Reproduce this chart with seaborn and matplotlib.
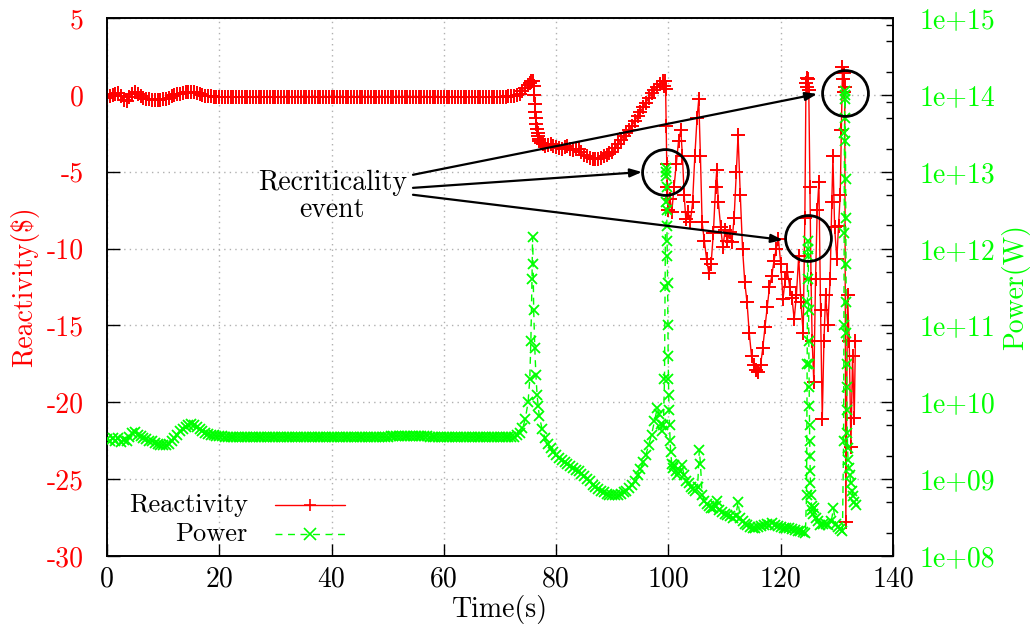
import numpy as np
import pandas as pd
import matplotlib
matplotlib.use("Agg")
import matplotlib.pyplot as plt
import seaborn as sns
from matplotlib.ticker import LogLocator, NullFormatter

# ---------------- data ----------------
time_early = [
    0.0, 0.5, 1.0, 1.5, 2.0, 2.5, 3.0, 3.5, 4.0, 4.5,
    5.0, 5.5, 6.0, 6.5, 7.0, 7.5, 8.0, 8.5, 9.0, 9.5,
    10.0, 10.5, 11.0, 11.5, 12.0, 12.5, 13.0, 13.5, 14.0, 14.5,
    15.0, 15.5, 16.0, 16.5, 17.0, 17.5, 18.0, 18.5, 19.0, 19.5,
    20.0, 20.5, 21.0, 21.5, 22.0, 22.5, 23.0, 23.5, 24.0, 24.5,
    25.0, 25.5, 26.0, 26.5, 27.0, 27.5, 28.0, 28.5, 29.0, 29.5,
    30.0, 30.5, 31.0, 31.5, 32.0, 32.5, 33.0, 33.5, 34.0, 34.5,
    35.0, 35.5, 36.0, 36.5, 37.0, 37.5, 38.0, 38.5, 39.0, 39.5,
    40.0, 40.5, 41.0, 41.5, 42.0, 42.5, 43.0, 43.5, 44.0, 44.5,
    45.0, 45.5, 46.0, 46.5, 47.0, 47.5, 48.0, 48.5, 49.0, 49.5,
    50.0, 50.5, 51.0, 51.5, 52.0, 52.5, 53.0, 53.5, 54.0, 54.5,
    55.0, 55.5, 56.0, 56.5, 57.0, 57.5, 58.0, 58.5, 59.0, 59.5,
    60.0, 60.5, 61.0, 61.5, 62.0, 62.5, 63.0, 63.5, 64.0, 64.5,
    65.0, 65.5, 66.0, 66.5, 67.0, 67.5, 68.0, 68.5, 69.0, 69.5,
    70.0, 70.5, 71.0, 71.5, 72.0,
]
rho_early = [
    -0.18, -0.10, -0.02, 0.08, 0.12, -0.10, -0.35, -0.38, -0.15, 0.05,
    0.19, 0.05, -0.10, -0.20, -0.27, -0.30, -0.32, -0.33, -0.33, -0.33,
    -0.30, -0.25, -0.18, -0.10, -0.03, 0.03, 0.08, 0.12, 0.16, 0.19,
    0.20, 0.17, 0.10, 0.03, -0.02, -0.06, -0.08, -0.10, -0.11, -0.12,
    -0.12, -0.12, -0.12, -0.12, -0.12, -0.12, -0.12, -0.12, -0.12, -0.12,
    -0.12, -0.12, -0.12, -0.12, -0.12, -0.12, -0.12, -0.12, -0.12, -0.12,
    -0.12, -0.12, -0.12, -0.12, -0.12, -0.12, -0.12, -0.12, -0.12, -0.12,
    -0.12, -0.12, -0.12, -0.12, -0.12, -0.12, -0.12, -0.12, -0.12, -0.12,
    -0.12, -0.12, -0.12, -0.12, -0.12, -0.12, -0.12, -0.12, -0.12, -0.12,
    -0.12, -0.12, -0.12, -0.12, -0.12, -0.12, -0.12, -0.12, -0.12, -0.12,
    -0.12, -0.12, -0.11, -0.11, -0.11, -0.11, -0.11, -0.11, -0.11, -0.11,
    -0.11, -0.11, -0.11, -0.11, -0.12, -0.12, -0.12, -0.12, -0.12, -0.12,
    -0.12, -0.12, -0.12, -0.12, -0.12, -0.12, -0.12, -0.12, -0.12, -0.12,
    -0.12, -0.12, -0.12, -0.12, -0.12, -0.12, -0.12, -0.12, -0.12, -0.12,
    -0.12, -0.12, -0.11, -0.10, -0.10,
]
# power as log10(W)
power_exp_early = [
    9.52, 9.49, 9.54, 9.50, 9.53, 9.48, 9.51, 9.49, 9.55, 9.60,
    9.61, 9.58, 9.56, 9.54, 9.52, 9.50, 9.49, 9.47, 9.46, 9.45,
    9.44, 9.44, 9.46, 9.50, 9.54, 9.58, 9.62, 9.65, 9.68, 9.70,
    9.72, 9.71, 9.68, 9.65, 9.62, 9.60, 9.59, 9.58, 9.57, 9.56,
    9.56, 9.56, 9.55, 9.55, 9.55, 9.55, 9.55, 9.55, 9.55, 9.55,
    9.55, 9.55, 9.55, 9.55, 9.55, 9.55, 9.55, 9.55, 9.55, 9.55,
    9.55, 9.55, 9.55, 9.55, 9.55, 9.55, 9.55, 9.55, 9.55, 9.55,
    9.55, 9.55, 9.55, 9.55, 9.55, 9.55, 9.55, 9.55, 9.55, 9.55,
    9.55, 9.55, 9.55, 9.55, 9.55, 9.55, 9.55, 9.55, 9.55, 9.55,
    9.55, 9.55, 9.55, 9.55, 9.55, 9.55, 9.55, 9.55, 9.55, 9.55,
    9.55, 9.56, 9.56, 9.56, 9.56, 9.56, 9.56, 9.56, 9.56, 9.56,
    9.56, 9.56, 9.56, 9.56, 9.56, 9.55, 9.55, 9.55, 9.55, 9.55,
    9.55, 9.55, 9.55, 9.55, 9.55, 9.55, 9.55, 9.55, 9.55, 9.55,
    9.55, 9.55, 9.55, 9.55, 9.55, 9.55, 9.55, 9.55, 9.55, 9.55,
    9.55, 9.55, 9.55, 9.55, 9.55,
]

time_rho_late = [
    72.5, 73.0, 73.5, 74.0, 74.5, 75.0, 75.3, 75.6, 75.9, 76.0,
    76.1, 76.2, 76.3, 76.4, 76.5, 76.6, 76.7, 76.8, 76.9, 77.0,
    77.3, 77.6, 78.0, 78.5, 79.0, 79.5, 80.0, 80.5, 81.0, 81.5,
    82.0, 82.5, 83.0, 83.5, 84.0, 84.5, 85.0, 85.5, 86.0, 86.5,
    87.0, 87.5, 88.0, 88.5, 89.0, 89.5, 90.0, 90.5, 91.0, 91.5,
    92.0, 92.5, 93.0, 93.5, 94.0, 94.5, 95.0, 95.5, 96.0, 96.5,
    97.0, 97.5, 98.0, 98.5, 99.0, 99.2, 99.4, 99.5, 99.6, 99.7,
    99.8, 100.0, 100.3, 100.6, 101.0, 101.4, 101.8, 102.2, 102.5, 102.8,
    103.1, 103.5, 103.9, 104.3, 104.7, 105.1, 105.4, 105.7, 106.0, 106.4,
    106.8, 107.2, 107.6, 108.0, 108.4, 108.6, 108.9, 109.3, 109.7, 110.1,
    110.5, 110.9, 111.3, 111.7, 112.1, 112.4, 112.8, 113.2, 113.6, 114.0,
    114.4, 114.8, 115.2, 115.6, 116.0, 116.4, 116.8, 117.2, 117.6, 118.0,
    118.4, 118.8, 119.2, 119.6, 120.0, 120.4, 120.8, 121.2, 121.6, 122.0,
    122.4, 122.8, 123.2, 123.6, 124.0, 124.3, 124.5, 124.6, 124.7, 124.8,
    125.0, 125.2, 125.4, 125.6, 125.9, 126.2, 126.5, 126.8, 127.1, 127.4,
    127.7, 128.0, 128.4, 128.8, 129.1, 129.3, 129.6, 130.0, 130.3, 130.6,
    130.8, 131.0, 131.1, 131.2, 131.3, 131.4, 131.6, 131.9, 132.2, 132.5,
    132.8, 133.1, 133.3,
]
rho_late = [
    -0.08, -0.02, 0.08, 0.22, 0.42, 0.62, 0.75, 0.88, 0.90, 0.60,
    0.00, -0.60, -1.10, -1.50, -1.90, -2.20, -2.50, -2.70, -2.90, -3.00,
    -3.10, -3.20, -3.30, -3.25, -3.20, -3.30, -3.40, -3.45, -3.50, -3.40,
    -3.35, -3.50, -3.60, -3.55, -3.50, -3.70, -3.90, -4.00, -4.10, -4.20,
    -4.20, -4.15, -4.10, -4.00, -3.90, -3.80, -3.70, -3.45, -3.20, -2.95,
    -2.70, -2.50, -2.30, -2.00, -1.70, -1.40, -1.10, -0.80, -0.50, -0.20,
    0.10, 0.30, 0.50, 0.70, 0.90, 0.60, 0.90, 0.40, -2.00, -4.50,
    -6.00, -7.50, -6.80, -7.60, -6.00, -4.50, -3.00, -2.30, -4.00, -6.50,
    -8.10, -7.60, -8.30, -7.00, -4.00, -1.50, -0.30, -4.00, -8.30, -9.50,
    -10.70, -11.60, -11.00, -9.00, -6.00, -4.90, -7.00, -8.60, -9.90, -8.80,
    -9.50, -8.90, -9.60, -8.00, -5.00, -2.60, -6.50, -10.00, -12.20, -13.50,
    -15.50, -17.00, -17.60, -17.90, -18.00, -17.60, -16.50, -15.10, -13.80, -12.50,
    -11.80, -10.80, -10.00, -9.40, -11.00, -13.30, -12.00, -11.50, -12.50, -13.20,
    -14.60, -13.00, -10.50, -13.50, -15.50, -8.00, 0.80, 1.10, 0.50, 1.00,
    0.30, -6.00, -12.00, -16.00, -18.70, -12.00, -7.50, -5.70, -14.00, -21.10,
    -16.00, -13.00, -15.00, -12.00, -7.00, -4.00, -8.60, -10.70, -8.50, -6.50,
    -2.30, 1.80, 1.00, 0.20, 1.40, 0.50, -27.80, -13.00, -16.00, -22.90,
    -17.00, -21.00, -16.00,
]

time_pow_late = [
    72.5, 73.0, 73.5, 74.0, 74.5, 75.0, 75.3, 75.5, 75.7, 75.8,
    75.9, 76.0, 76.2, 76.4, 76.6, 76.8, 77.0, 77.5, 78.0, 78.5,
    79.0, 79.5, 80.0, 80.5, 81.0, 81.5, 82.0, 82.5, 83.0, 83.5,
    84.0, 84.5, 85.0, 85.5, 86.0, 86.5, 87.0, 87.5, 88.0, 88.5,
    89.0, 89.5, 90.0, 90.5, 91.0, 91.5, 92.0, 92.5, 93.0, 93.5,
    94.0, 94.5, 95.0, 95.5, 96.0, 96.5, 97.0, 97.5, 98.0, 98.3,
    98.6, 98.9, 99.1, 99.3, 99.4, 99.5, 99.55, 99.6, 99.63, 99.66,
    99.7, 99.73, 99.76, 99.8, 99.85, 99.9, 99.95, 100.0, 100.05, 100.1,
    100.2, 100.3, 100.4, 100.6, 100.8, 101.0, 101.3, 101.6, 102.0, 102.4,
    102.8, 103.2, 103.6, 104.0, 104.4, 104.8, 105.2, 105.5, 105.7, 106.0,
    106.4, 106.8, 107.2, 107.6, 108.0, 108.4, 108.7, 109.0, 109.5, 110.0,
    110.5, 111.0, 111.5, 112.0, 112.4, 112.8, 113.2, 113.6, 114.0, 114.5,
    115.0, 115.5, 116.0, 116.5, 117.0, 117.5, 118.0, 118.5, 119.0, 119.5,
    120.0, 120.5, 121.0, 121.5, 122.0, 122.5, 123.0, 123.5, 124.0, 124.4,
    124.6, 124.7, 124.75, 124.8, 124.85, 124.9, 124.93, 124.96, 125.0, 125.03,
    125.06, 125.1, 125.13, 125.16, 125.2, 125.25, 125.3, 125.4, 125.5, 125.6,
    125.8, 126.0, 126.3, 126.6, 127.0, 127.5, 128.0, 128.5, 129.0, 129.4,
    129.8, 130.2, 130.6, 131.0, 131.2, 131.25, 131.3, 131.35, 131.4, 131.42,
    131.45, 131.5, 131.53, 131.56, 131.6, 131.63, 131.66, 131.7, 131.73, 131.76,
    131.8, 131.85, 131.9, 132.0, 132.1, 132.3, 132.5, 132.7, 132.9, 133.1,
    133.4,
]
power_exp_late = [
    9.55, 9.57, 9.60, 9.66, 9.78, 10.00, 10.30, 10.80, 11.60, 12.15,
    11.80, 11.20, 10.70, 10.35, 10.10, 9.95, 9.82, 9.65, 9.54, 9.46,
    9.40, 9.35, 9.31, 9.28, 9.25, 9.22, 9.20, 9.17, 9.15, 9.12,
    9.10, 9.07, 9.04, 9.00, 8.97, 8.93, 8.90, 8.87, 8.85, 8.83,
    8.81, 8.80, 8.79, 8.79, 8.80, 8.81, 8.83, 8.85, 8.88, 8.92,
    8.98, 9.05, 9.13, 9.22, 9.32, 9.45, 9.58, 9.75, 9.92, 9.85,
    9.72, 9.62, 9.70, 10.30, 11.50, 12.60, 13.00, 13.05, 12.95, 12.80,
    12.50, 12.30, 12.10, 11.90, 11.55, 11.00, 10.60, 10.30, 10.10, 9.90,
    9.70, 9.50, 9.35, 9.20, 9.15, 9.18, 9.10, 9.05, 9.10, 9.18,
    9.05, 8.98, 8.95, 8.90, 8.87, 8.85, 8.90, 9.38, 9.20, 8.80,
    8.72, 8.68, 8.65, 8.63, 8.62, 8.65, 8.72, 8.60, 8.57, 8.55,
    8.53, 8.52, 8.50, 8.52, 8.70, 8.50, 8.45, 8.42, 8.40, 8.38,
    8.37, 8.37, 8.38, 8.39, 8.40, 8.41, 8.40, 8.43, 8.40, 8.39,
    8.38, 8.37, 8.36, 8.36, 8.35, 8.34, 8.33, 8.32, 8.31, 8.30,
    8.80, 10.50, 11.30, 11.90, 12.10, 12.00, 11.60, 11.20, 10.80, 10.50,
    10.20, 9.95, 9.70, 9.50, 9.30, 9.10, 8.95, 8.80, 8.65, 8.60,
    8.55, 8.62, 8.50, 8.45, 8.40, 8.41, 8.42, 8.40, 8.45, 8.62,
    8.42, 8.38, 8.35, 8.33, 9.50, 11.00, 12.20, 13.50, 14.00, 14.05,
    13.95, 13.70, 13.40, 12.90, 12.40, 11.80, 11.30, 10.90, 10.50, 10.20,
    9.90, 9.60, 9.40, 9.25, 9.15, 9.05, 8.95, 8.85, 8.78, 8.70,
    8.66,
]

x_ticks = [0, 20, 40, 60, 80, 100, 120, 140]
rho_ticks = [5, 0, -5, -10, -15, -20, -25, -30]
power_ticks = [1e8, 1e9, 1e10, 1e11, 1e12, 1e13, 1e14, 1e15]
power_tick_labels = ["1e+08", "1e+09", "1e+10", "1e+11", "1e+12", "1e+13", "1e+14", "1e+15"]

# ---------------- style ----------------
sns.set_style("ticks")
plt.rcParams['font.family'] = ['cmr10', 'DejaVu Serif']
plt.rcParams['axes.unicode_minus'] = False
plt.rcParams['mathtext.fontset'] = 'cm'
plt.rcParams['text.color'] = 'black'
plt.rcParams['axes.labelcolor'] = 'black'

RED = '#ff0000'
GREEN = '#00ff00'
FS = 20

df_rho = pd.DataFrame({'time': time_early + time_rho_late,
                       'rho': rho_early + rho_late})
df_pow = pd.DataFrame({'time': time_early + time_pow_late,
                       'power': 10.0 ** np.array(power_exp_early + power_exp_late)})

fig = plt.figure(figsize=(10.31, 6.32), dpi=100)
ax1 = fig.add_axes([107 / 1031, 76 / 632, 786 / 1031, 538 / 632])
ax2 = ax1.twinx()
ax2.set_yscale('log')

sns.lineplot(data=df_rho, x='time', y='rho', ax=ax1, color=RED, lw=1.0,
             marker='+', markersize=9.5, markeredgewidth=1.4, markeredgecolor=RED,
             sort=False, estimator=None, errorbar=None, legend=False, zorder=3)
sns.lineplot(data=df_pow, x='time', y='power', ax=ax2, color=GREEN, lw=1.0,
             linestyle=(0, (5, 4)), marker='x', markersize=7.5, markeredgewidth=1.3,
             markeredgecolor=GREEN, sort=False, estimator=None, errorbar=None,
             legend=False, zorder=3)

# ---------------- axes ----------------
ax1.set_xticks(x_ticks)
ax1.set_xticklabels([str(v) for v in x_ticks], fontsize=FS, color='black')
ax1.set_yticks(rho_ticks)
ax1.set_yticklabels([str(v) for v in rho_ticks], fontsize=FS, color=RED)
ax1.tick_params(axis='x', direction='in', length=9, width=1, pad=7, colors='black')
ax1.tick_params(axis='y', direction='in', length=9, width=1, pad=17, labelcolor=RED, color='black')
ax1.set_xlabel('Time(s)', fontsize=FS, color='black')
ax1.set_ylabel(r'Reactivity(\$)', fontsize=FS, color=RED)
ax1.xaxis.set_label_coords(0.5, -0.072)
ax1.yaxis.set_label_coords(-0.086, 0.5)

ax2.set_yticks(power_ticks)
ax2.set_yticklabels(power_tick_labels, fontsize=FS, color=GREEN)
ax2.yaxis.set_minor_locator(LogLocator(base=10, subs=(2.0, 5.0, 8.0)))
ax2.yaxis.set_minor_formatter(NullFormatter())
ax2.tick_params(axis='y', which='major', direction='in', length=9, width=1, pad=19,
                labelcolor=GREEN, color='black')
ax2.tick_params(axis='y', which='minor', direction='in', length=5, width=1, color='black')
ax2.set_ylabel('Power(W)', fontsize=FS, color=GREEN)
ax2.yaxis.set_label_coords(1.138, 0.5)

ax1.grid(True, which='major', color='#b0b0b0', linestyle=(0, (1, 3)), linewidth=1)
ax1.set_axisbelow(True)
for ax in (ax1, ax2):
    for s in ax.spines.values():
        s.set_color('black')
        s.set_linewidth(1.2)

# ---------------- legend (gnuplot style) ----------------
legend_rows = [('Reactivity', 0.094, RED, '+', '-'),
               ('Power', 0.041, GREEN, 'x', (0, (5, 4)))]
for lab, yy, col, mk, ls in legend_rows:
    ax2.text(0.179, yy, lab, transform=ax2.transAxes, ha='right', va='center',
             fontsize=19, color='black')
    ax2.plot([0.214, 0.303], [yy, yy], transform=ax2.transAxes, color=col, lw=1, linestyle=ls)
    ax2.plot([0.258], [yy], transform=ax2.transAxes, color=col, marker=mk, ms=8,
             mew=1.2, linestyle='none')

# ---------------- annotations ----------------
ax2.text(40.1, -6.6, "Recriticality\nevent", transform=ax1.transData, ha='center',
         va='center', multialignment='center', fontsize=FS, linespacing=1.05,
         color='black', zorder=6)
arrow_tails = [(54.5, -5.2), (54.5, -6.05), (54.5, -6.5)]
arrow_heads = [(126.5, 0.06), (95.3, -5.02), (120.4, -9.44)]
for tail, head in zip(arrow_tails, arrow_heads):
    ax2.annotate('', xy=head, xytext=tail, xycoords=ax1.transData, textcoords=ax1.transData,
                 arrowprops=dict(arrowstyle='-|>,head_length=0.7,head_width=0.25',
                                 color='black', lw=1.6, shrinkA=0, shrinkB=0), zorder=6)
circle_centers = [(131.5, 0.12), (99.4, -5.02), (124.9, -9.31)]
for cx, cy in circle_centers:
    ax2.plot([cx], [cy], transform=ax1.transData, marker='o', ms=33, mfc='none',
             mec='black', mew=2.0, linestyle='none', zorder=6)

ax1.set_xlim(0, 140)
ax1.set_ylim(-30, 5)
ax2.set_ylim(1e8, 1e15)
ax2.set_xlim(0, 140)

fig.savefig('out.png', dpi=100, facecolor='white')
